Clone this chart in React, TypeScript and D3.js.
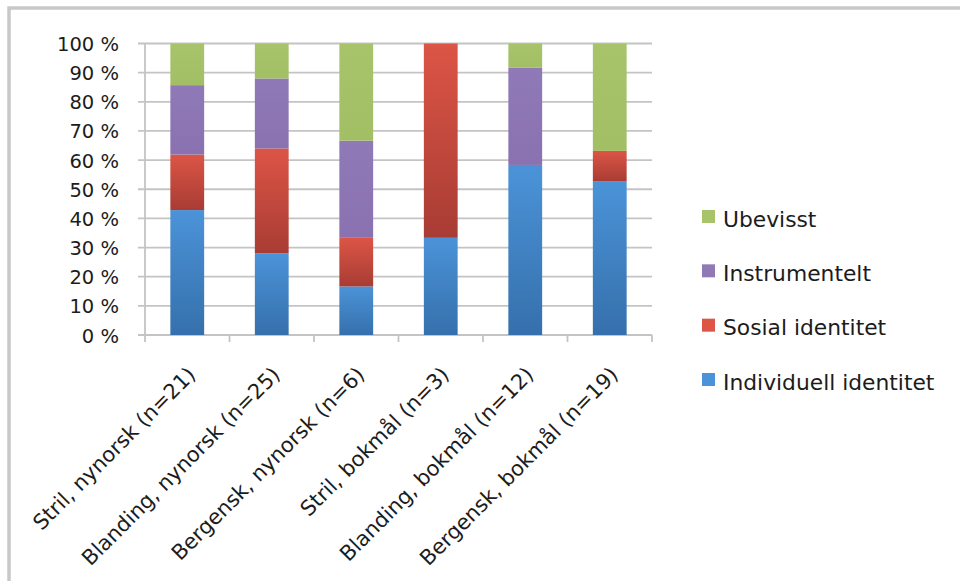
import React from "react";
import * as d3 from "d3";

// Respondent groups (x axis) and answer counts per motivation type
const categories = [
  "Stril, nynorsk (n=21)",
  "Blanding, nynorsk (n=25)",
  "Bergensk, nynorsk (n=6)",
  "Stril, bokmål (n=3)",
  "Blanding, bokmål (n=12)",
  "Bergensk, bokmål (n=19)",
];
const individuell = [9, 7, 1, 1, 7, 10];
const sosial = [4, 9, 1, 2, 0, 2];
const instrumentelt = [5, 6, 2, 0, 4, 0];
const ubevisst = [3, 3, 2, 0, 1, 7];

const seriesKeys = ["individuell", "sosial", "instrumentelt", "ubevisst"];
const seriesLabels = ["Individuell identitet", "Sosial identitet", "Instrumentelt", "Ubevisst"];
const yTicks = [0, 0.1, 0.2, 0.3, 0.4, 0.5, 0.6, 0.7, 0.8, 0.9, 1];

const W = 960;
const H = 581;
const plot = { left: 145, right: 652, top: 43.5, bottom: 335 };
const FONT = "'DejaVu Sans', sans-serif";
const TEXT = "#1c1c1c";
const GRID = "#c4c4c4";

// gradient stops (top, bottom) for each series fill
const fills: Record<string, [string, string]> = {
  individuell: ["#4b93d8", "#3570ac"],
  sosial: ["#dc5546", "#a83c34"],
  instrumentelt: ["#8f79b6", "#8a72b0"],
  ubevisst: ["#a7c46b", "#a2bf66"],
};

export default function App() {
  const rows = categories.map((c, i) => ({
    category: c,
    individuell: individuell[i],
    sosial: sosial[i],
    instrumentelt: instrumentelt[i],
    ubevisst: ubevisst[i],
  }));

  const stacked = d3
    .stack<any>()
    .keys(seriesKeys)
    .offset(d3.stackOffsetExpand)(rows);

  const x = d3
    .scaleBand<string>()
    .domain(categories)
    .range([plot.left, plot.right])
    .paddingInner(0.6)
    .paddingOuter(0.3);

  const y = d3.scaleLinear().domain([0, 1]).range([plot.bottom, plot.top]);

  const step = x.step();
  const boundaries = d3.range(categories.length + 1).map((i) => plot.left + i * step);

  const legendOrder = [3, 2, 1, 0];
  const legendY = d3.scalePoint<number>().domain(legendOrder).range([216.5, 379.5]);

  return (
    <svg
      width={W}
      height={H}
      viewBox={`0 0 ${W} ${H}`}
      style={{ position: "fixed", left: 0, top: 0, background: "#fff" }}
    >
      <defs>
        {seriesKeys.map((k) => (
          <linearGradient key={k} id={`g-${k}`} x1="0" y1="0" x2="0" y2="1">
            <stop offset="0" stopColor={fills[k][0]} />
            <stop offset="1" stopColor={fills[k][1]} />
          </linearGradient>
        ))}
      </defs>

      {/* chart frame */}
      <rect x={9} y={8} width={W + 20} height={H + 20} fill="none" stroke="#c8c8c8" strokeWidth={3.5} />

      {/* horizontal gridlines with left tick stubs */}
      {yTicks.map((t) => (
        <line
          key={`g${t}`}
          x1={plot.left - 7}
          x2={plot.right}
          y1={y(t)}
          y2={y(t)}
          stroke={GRID}
          strokeWidth={1.8}
        />
      ))}

      {/* axes */}
      <line x1={plot.left} x2={plot.left} y1={plot.top} y2={plot.bottom} stroke={GRID} strokeWidth={1.8} />
      <line x1={plot.left} x2={plot.right} y1={plot.bottom} y2={plot.bottom} stroke={GRID} strokeWidth={1.8} />
      {boundaries.map((bx, i) => (
        <line key={`t${i}`} x1={bx} x2={bx} y1={plot.bottom} y2={plot.bottom + 7} stroke={GRID} strokeWidth={1.8} />
      ))}

      {/* stacked bars */}
      {stacked.map((s) =>
        s.map((d, i) => {
          const h = y(d[0]) - y(d[1]);
          if (h <= 0) return null;
          return (
            <rect
              key={`${s.key}-${i}`}
              x={x(categories[i])}
              y={y(d[1])}
              width={x.bandwidth()}
              height={h}
              fill={`url(#g-${s.key})`}
            />
          );
        })
      )}

      {/* y tick labels */}
      {yTicks.map((t) => (
        <text
          key={`l${t}`}
          x={119}
          y={y(t) + 7.5}
          textAnchor="end"
          fontFamily={FONT}
          fontSize={19.5}
          fill={TEXT}
        >
          {`${Math.round(t * 100)} %`}
        </text>
      ))}

      {/* rotated category labels */}
      {categories.map((c) => {
        const cx = (x(c) as number) + x.bandwidth() / 2 + 4.7;
        const cy = 371;
        return (
          <text
            key={c}
            transform={`translate(${cx},${cy}) rotate(-45)`}
            textAnchor="end"
            dominantBaseline="central"
            fontFamily={FONT}
            fontSize={21}
            fill={TEXT}
          >
            {c}
          </text>
        );
      })}

      {/* legend */}
      {legendOrder.map((si) => {
        const cy = legendY(si) as number;
        const key = seriesKeys[si];
        return (
          <g key={key}>
            <rect x={702} y={cy - 6.5} width={13} height={13} fill={fills[key][0]} />
            <text x={723} y={cy + 10} fontFamily={FONT} fontSize={21.8} fill={TEXT}>
              {seriesLabels[si]}
            </text>
          </g>
        );
      })}
    </svg>
  );
}
